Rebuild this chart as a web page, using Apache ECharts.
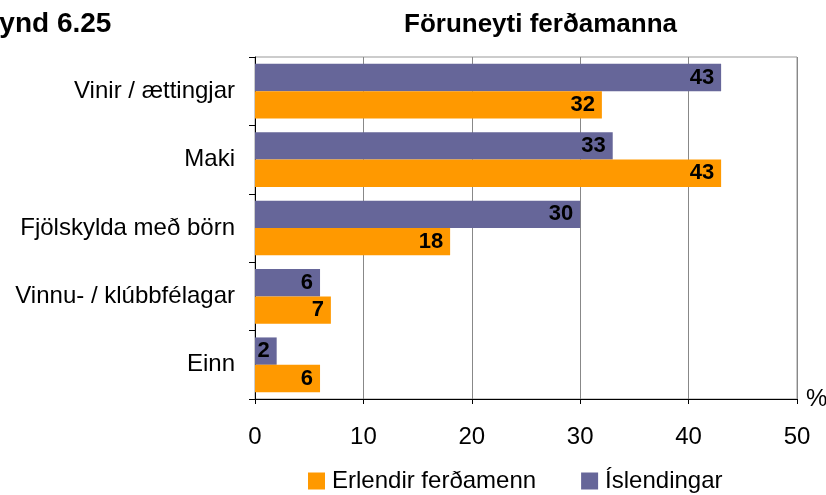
<!DOCTYPE html>
<html>
<head>
<meta charset="utf-8">
<script src="https://cdn.jsdelivr.net/npm/echarts@6/dist/echarts.min.js"></script>
<style>
  html, body { margin: 0; padding: 0; background: #fff; }
  #chart { width: 826px; height: 495px; }
</style>
</head>
<body>
<div id="chart"></div>
<script>
// Föruneyti ferðamanna (%), top to bottom
const categories = ['Vinir / ættingjar', 'Maki', 'Fjölskylda með börn', 'Vinnu- / klúbbfélagar', 'Einn'];
const islendingar = [43, 33, 30, 6, 2];
const erlendir = [32, 43, 18, 7, 6];
const xTicks = { min: 0, max: 50, interval: 10 };

const FONT = '"Liberation Sans", Arial, sans-serif';
const chart = echarts.init(document.getElementById('chart'), null, { renderer: 'canvas' });

const valueLabel = {
  show: true,
  position: 'insideRight',
  distance: 7,
  color: '#000',
  fontWeight: 'bold',
  fontSize: 22,
  fontFamily: FONT
};

chart.setOption({
  animation: false,
  textStyle: { fontFamily: FONT },
  graphic: [
    {
      type: 'text', left: -24, top: 10,
      style: { text: 'Mynd 6.25', font: 'bold 28px ' + FONT, fill: '#000' }
    },
    {
      type: 'text', left: 404, top: 12,
      style: { text: 'Föruneyti ferðamanna', font: 'bold 26px ' + FONT, fill: '#000' }
    }
  ],
  legend: {
    data: ['Erlendir ferðamenn', 'Íslendingar'],
    left: 303, top: 464,
    itemWidth: 17, itemHeight: 17, itemGap: 45,
    icon: 'rect',
    textStyle: { fontSize: 24, color: '#000', fontFamily: FONT, padding: [0, 0, 0, 2] }
  },
  grid: {
    left: 255, right: 29, top: 57, bottom: 96,
    outerBoundsMode: 'none', containLabel: false,
    show: true, borderColor: '#999', borderWidth: 1, backgroundColor: 'transparent'
  },
  xAxis: {
    type: 'value',
    min: xTicks.min, max: xTicks.max, interval: xTicks.interval,
    name: '%', nameLocation: 'end', nameGap: 9,
    nameTextStyle: { fontSize: 24, color: '#000', verticalAlign: 'middle' },
    axisLine: { show: true, lineStyle: { color: '#000', width: 1 } },
    axisTick: { show: true, length: 5, lineStyle: { color: '#000' } },
    axisLabel: { fontSize: 24, color: '#000', margin: 26 },
    splitLine: { show: true, lineStyle: { color: '#888', width: 1 } }
  },
  yAxis: {
    type: 'category',
    inverse: true,
    data: categories,
    axisLine: { show: true, lineStyle: { color: '#000', width: 1 } },
    axisTick: { show: true, length: 6, inside: false, lineStyle: { color: '#000' } },
    axisLabel: { fontSize: 24, color: '#000', margin: 20 },
    splitLine: { show: false }
  },
  series: [
    {
      name: 'Íslendingar', type: 'bar', data: islendingar,
      itemStyle: { color: '#666699' },
      barGap: '0%', barCategoryGap: '20%',
      label: valueLabel
    },
    {
      name: 'Erlendir ferðamenn', type: 'bar', data: erlendir,
      itemStyle: { color: '#FF9900' },
      barGap: '0%', barCategoryGap: '20%',
      label: valueLabel
    }
  ]
});
</script>
</body>
</html>
